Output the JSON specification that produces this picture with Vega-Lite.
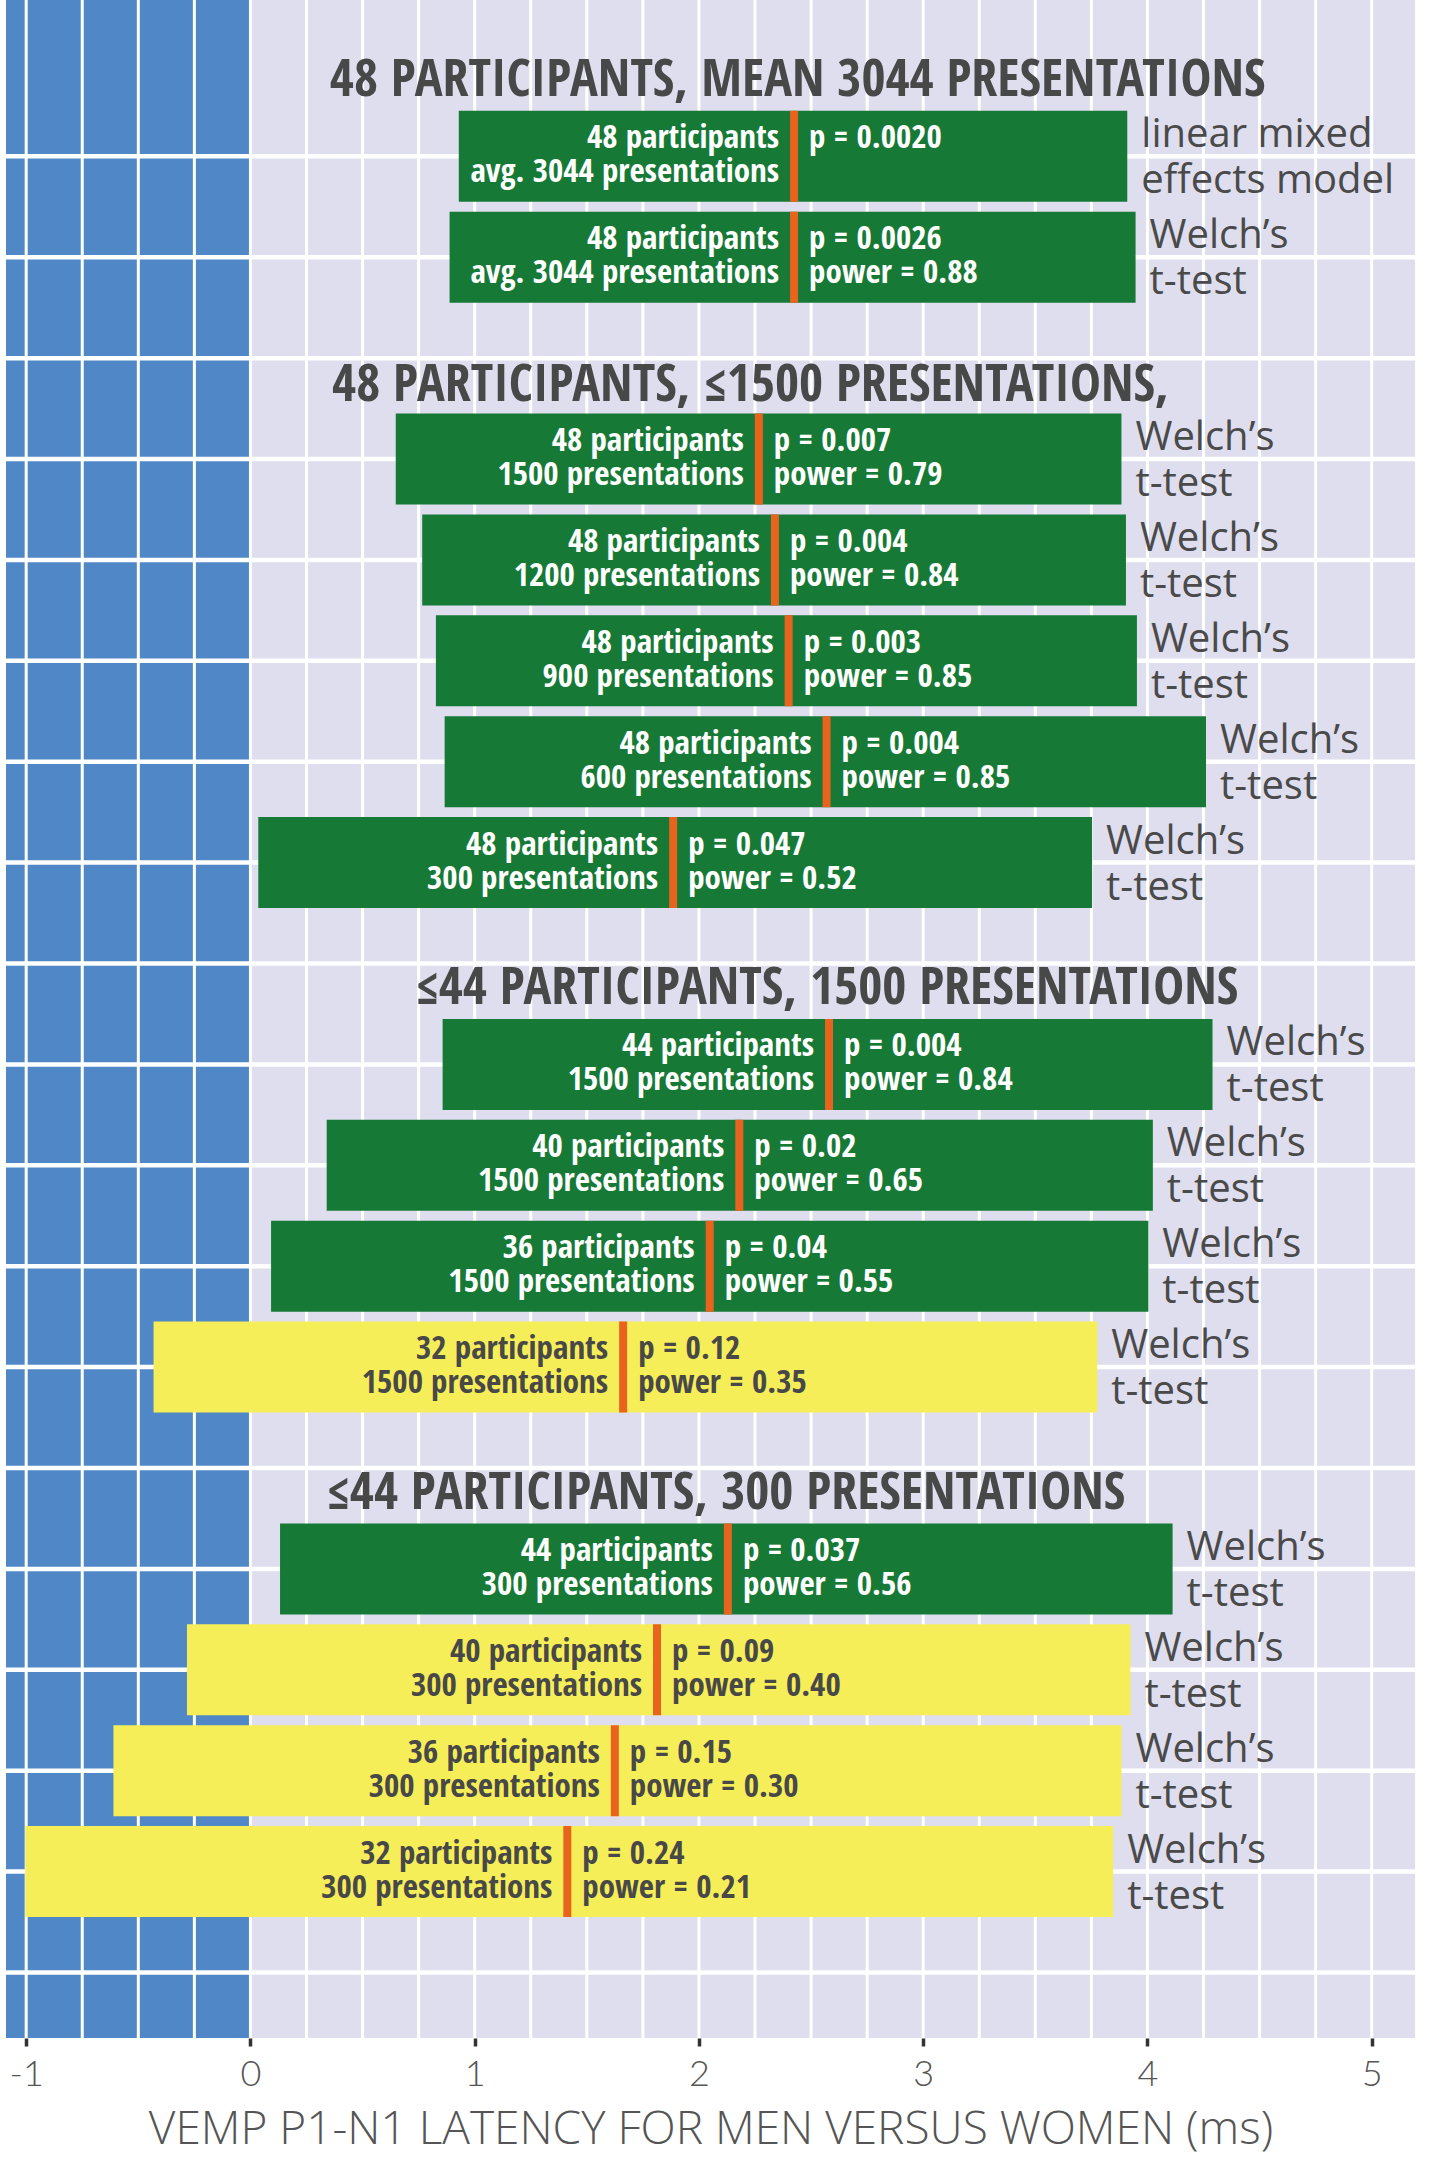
{
  "$schema": "https://vega.github.io/schema/vega-lite/v6.json",
  "autosize": {"type": "none"},
  "width": 1409,
  "height": 2038,
  "padding": {"left": 6, "top": 0, "right": 18, "bottom": 120},
  "background": "white",
  "config": {"view": {"stroke": null, "fill": "#DEDEEE"}},
  "datasets": {
    "bars": [
      {"row": 0, "lo": 0.929, "mean": 2.424, "hi": 3.910, "sig": "yes", "who": "48 participants\navg. 3044 presentations", "stat": "p = 0.0020\n ", "test": "linear mixed\neffects model"},
      {"row": 1, "lo": 0.888, "mean": 2.424, "hi": 3.947, "sig": "yes", "who": "48 participants\navg. 3044 presentations", "stat": "p = 0.0026\npower = 0.88", "test": "Welch’s\nt-test"},
      {"row": 3, "lo": 0.648, "mean": 2.267, "hi": 3.884, "sig": "yes", "who": "48 participants\n1500 presentations", "stat": "p = 0.007\npower = 0.79", "test": "Welch’s\nt-test"},
      {"row": 4, "lo": 0.766, "mean": 2.339, "hi": 3.904, "sig": "yes", "who": "48 participants\n1200 presentations", "stat": "p = 0.004\npower = 0.84", "test": "Welch’s\nt-test"},
      {"row": 5, "lo": 0.827, "mean": 2.400, "hi": 3.953, "sig": "yes", "who": "48 participants\n900 presentations", "stat": "p = 0.003\npower = 0.85", "test": "Welch’s\nt-test"},
      {"row": 6, "lo": 0.866, "mean": 2.569, "hi": 4.261, "sig": "yes", "who": "48 participants\n600 presentations", "stat": "p = 0.004\npower = 0.85", "test": "Welch’s\nt-test"},
      {"row": 7, "lo": 0.035, "mean": 1.885, "hi": 3.753, "sig": "yes", "who": "48 participants\n300 presentations", "stat": "p = 0.047\npower = 0.52", "test": "Welch’s\nt-test"},
      {"row": 9, "lo": 0.857, "mean": 2.580, "hi": 4.290, "sig": "yes", "who": "44 participants\n1500 presentations", "stat": "p = 0.004\npower = 0.84", "test": "Welch’s\nt-test"},
      {"row": 10, "lo": 0.340, "mean": 2.180, "hi": 4.024, "sig": "yes", "who": "40 participants\n1500 presentations", "stat": "p = 0.02\npower = 0.65", "test": "Welch’s\nt-test"},
      {"row": 11, "lo": 0.092, "mean": 2.048, "hi": 4.004, "sig": "yes", "who": "36 participants\n1500 presentations", "stat": "p = 0.04\npower = 0.55", "test": "Welch’s\nt-test"},
      {"row": 12, "lo": -0.432, "mean": 1.662, "hi": 3.776, "sig": "no", "who": "32 participants\n1500 presentations", "stat": "p = 0.12\npower = 0.35", "test": "Welch’s\nt-test"},
      {"row": 14, "lo": 0.132, "mean": 2.129, "hi": 4.112, "sig": "yes", "who": "44 participants\n300 presentations", "stat": "p = 0.037\npower = 0.56", "test": "Welch’s\nt-test"},
      {"row": 15, "lo": -0.283, "mean": 1.813, "hi": 3.924, "sig": "no", "who": "40 participants\n300 presentations", "stat": "p = 0.09\npower = 0.40", "test": "Welch’s\nt-test"},
      {"row": 16, "lo": -0.611, "mean": 1.625, "hi": 3.884, "sig": "no", "who": "36 participants\n300 presentations", "stat": "p = 0.15\npower = 0.30", "test": "Welch’s\nt-test"},
      {"row": 17, "lo": -1.004, "mean": 1.413, "hi": 3.847, "sig": "no", "who": "32 participants\n300 presentations", "stat": "p = 0.24\npower = 0.21", "test": "Welch’s\nt-test"}
    ],
    "titles": [
      {"pos": -0.73, "at": 2.44, "title": "48 PARTICIPANTS, MEAN 3044 PRESENTATIONS"},
      {"pos": 2.30, "at": 2.23, "title": "48 PARTICIPANTS, ≤1500 PRESENTATIONS,"},
      {"pos": 8.27, "at": 2.57, "title": "≤44 PARTICIPANTS, 1500 PRESENTATIONS"},
      {"pos": 13.28, "at": 2.12, "title": "≤44 PARTICIPANTS, 300 PRESENTATIONS"}
    ],
    "negband": [{"from": -1.09, "to": 0}],
    "vgrid": [
      {"v": -1}, {"v": -0.75}, {"v": -0.5}, {"v": -0.25}, {"v": 0}, {"v": 0.25}, {"v": 0.5}, {"v": 0.75},
      {"v": 1}, {"v": 1.25}, {"v": 1.5}, {"v": 1.75}, {"v": 2}, {"v": 2.25}, {"v": 2.5}, {"v": 2.75},
      {"v": 3}, {"v": 3.25}, {"v": 3.5}, {"v": 3.75}, {"v": 4}, {"v": 4.25}, {"v": 4.5}, {"v": 4.75}, {"v": 5}
    ],
    "hgrid": [
      {"h": 0}, {"h": 1}, {"h": 2}, {"h": 3}, {"h": 4}, {"h": 5}, {"h": 6}, {"h": 7}, {"h": 8}, {"h": 9},
      {"h": 10}, {"h": 11}, {"h": 12}, {"h": 13}, {"h": 14}, {"h": 15}, {"h": 16}, {"h": 17}, {"h": 18}
    ]
  },
  "encoding": {
    "x": {"type": "quantitative",
          "scale": {"domain": [-1.09, 5.193], "nice": false, "zero": false},
          "axis": {
            "values": [-1, 0, 1, 2, 3, 4, 5],
            "grid": false, "domain": false,
            "ticks": true, "tickColor": "#333333", "tickSize": 8, "tickWidth": 3.5,
            "labelFont": "Lato", "labelFontWeight": 300, "labelFontSize": 36, "labelColor": "#555555",
            "labelPadding": 11,
            "labelExpr": "datum.value < 0 ? '-' + abs(datum.value) : datum.label",
            "title": "VEMP P1-N1 LATENCY FOR MEN VERSUS WOMEN (ms)",
            "titleFont": "Open Sans", "titleFontWeight": 300, "titleFontSize": 46, "titleColor": "#555555",
            "titlePadding": 15
          }}
  },
  "layer": [
    {
      "data": {"name": "negband"},
      "mark": {"type": "rect", "color": "#5088C7"},
      "encoding": {
        "x": {"field": "from", "type": "quantitative"},
        "x2": {"field": "to"}
      }
    },
    {
      "data": {"name": "vgrid"},
      "mark": {"type": "rule", "color": "white", "strokeWidth": 3},
      "encoding": {
        "x": {"field": "v", "type": "quantitative"}
      }
    },
    {
      "data": {"name": "hgrid"},
      "mark": {"type": "rule", "color": "white", "strokeWidth": 4.5},
      "encoding": {
        "y": {"field": "h", "type": "quantitative", "axis": null,
              "scale": {"domain": [-1.5, 18.6], "nice": false, "zero": false, "reverse": true}}
      }
    },
    {
      "data": {"name": "bars"},
      "mark": {"type": "bar", "size": 91},
      "encoding": {
        "x": {"field": "lo", "type": "quantitative"},
        "x2": {"field": "hi"},
        "y": {"field": "row", "type": "quantitative", "axis": null},
        "color": {"field": "sig", "type": "nominal", "legend": null,
                  "scale": {"domain": ["yes", "no"], "range": ["#167936", "#F6EE58"]}}
      }
    },
    {
      "data": {"name": "bars"},
      "mark": {"type": "tick", "orient": "vertical", "size": 91, "thickness": 8, "color": "#E8641E", "opacity": 1},
      "encoding": {
        "x": {"field": "mean", "type": "quantitative"},
        "y": {"field": "row", "type": "quantitative", "axis": null}
      }
    },
    {
      "data": {"name": "bars"},
      "mark": {"type": "text", "align": "right", "baseline": "middle", "dx": -15, "dy": -18,
               "font": "Noto Sans Condensed, Open Sans Condensed, DejaVu Sans Condensed, sans-serif", "fontWeight": "bold", "fontSize": 33,
               "lineBreak": "\n", "lineHeight": 34},
      "encoding": {
        "x": {"field": "mean", "type": "quantitative"},
        "y": {"field": "row", "type": "quantitative", "axis": null},
        "text": {"field": "who"},
        "color": {"condition": {"test": "datum.sig == 'no'", "value": "#484848"}, "value": "white"}
      }
    },
    {
      "data": {"name": "bars"},
      "mark": {"type": "text", "align": "left", "baseline": "middle", "dx": 15, "dy": -18,
               "font": "Noto Sans Condensed, Open Sans Condensed, DejaVu Sans Condensed, sans-serif", "fontWeight": "bold", "fontSize": 33,
               "lineBreak": "\n", "lineHeight": 34},
      "encoding": {
        "x": {"field": "mean", "type": "quantitative"},
        "y": {"field": "row", "type": "quantitative", "axis": null},
        "text": {"field": "stat"},
        "color": {"condition": {"test": "datum.sig == 'no'", "value": "#484848"}, "value": "white"}
      }
    },
    {
      "data": {"name": "bars"},
      "mark": {"type": "text", "align": "left", "baseline": "middle", "dx": 14, "dy": -21,
               "font": "Open Sans", "fontWeight": 500, "fontSize": 40, "color": "#4A4A4A",
               "lineBreak": "\n", "lineHeight": 46},
      "encoding": {
        "x": {"field": "hi", "type": "quantitative"},
        "y": {"field": "row", "type": "quantitative", "axis": null},
        "text": {"field": "test"}
      }
    },
    {
      "data": {"name": "titles"},
      "mark": {"type": "text", "align": "center", "baseline": "middle", "dy": -3,
               "font": "Noto Sans Condensed, Open Sans Condensed, DejaVu Sans Condensed, sans-serif", "fontWeight": "bold", "fontSize": 52, "color": "#484848"},
      "encoding": {
        "x": {"field": "at", "type": "quantitative"},
        "y": {"field": "pos", "type": "quantitative", "axis": null},
        "text": {"field": "title"}
      }
    }
  ]
}
